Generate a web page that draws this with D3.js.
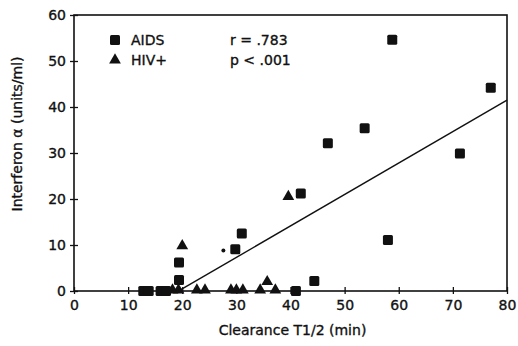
<!DOCTYPE html>
<html>
<head>
<meta charset="utf-8">
<script src="https://cdn.jsdelivr.net/npm/d3@7"></script>
<style>
  html, body { margin: 0; padding: 0; background: #fff; }
  svg text { font-family: "DejaVu Sans", sans-serif; fill: #111; stroke: #111; stroke-width: 0.35px; }
</style>
</head>
<body>
<svg id="chart" width="518" height="346"></svg>
<script>
// DATA (clearance T1/2 in min, interferon alpha in units/ml)
const aidsX = [58.8, 77.0, 53.7, 46.9, 71.3, 58.0, 44.4, 41.0, 41.9, 31.0, 29.8, 19.4, 19.4, 12.8, 13.8, 16.0, 17.0];
const aidsY = [54.6, 44.2, 35.4, 32.1, 29.9, 11.1, 2.2, 0, 21.2, 12.5, 9.1, 6.2, 2.4, 0, 0, 0, 0];

const hivX = [39.6, 20.0, 35.7, 22.7, 24.2, 29.0, 30.0, 31.2, 34.4, 37.2, 19.3, 18.2];
const hivY = [20.3, 9.6, 1.8, 0, 0, 0, 0, 0, 0, 0, 0, 0];

const strayX = [27.6];
const strayY = [8.8];

const fitX = [19.5, 80];
const fitY = [0.12, 41.5];

const xTicks = [0, 10, 20, 30, 40, 50, 60, 70, 80];
const yTicks = [0, 10, 20, 30, 40, 50, 60];

const statLines = ["r = .783", "p < .001"];

// LAYOUT
const margin = { left: 74, top: 15, right: 11, bottom: 55 };
const W = 518, H = 346;
const svg = d3.select("#chart");

const x = d3.scaleLinear().domain([0, 80]).range([margin.left, W - margin.right]);
const y = d3.scaleLinear().domain([0, 60]).range([H - margin.bottom, margin.top]);

// frame
svg.append("rect")
  .attr("x", x(0)).attr("y", y(60))
  .attr("width", x(80) - x(0)).attr("height", y(0) - y(60))
  .attr("fill", "none").attr("stroke", "#111").attr("stroke-width", 1.6);

// axes: ticks cross the axis line
const xAxis = svg.append("g").attr("transform", `translate(0,${y(0)})`)
  .call(d3.axisBottom(x).tickValues(xTicks).tickSize(3).tickPadding(6));
svg.append("g").attr("transform", `translate(0,${y(0)})`)
  .call(d3.axisBottom(x).tickValues(xTicks).tickSize(-4).tickFormat(""));

const yAxis = svg.append("g").attr("transform", `translate(${x(0)},0)`)
  .call(d3.axisLeft(y).tickValues(yTicks).tickSize(4).tickPadding(4));
svg.append("g").attr("transform", `translate(${x(0)},0)`)
  .call(d3.axisLeft(y).tickValues(yTicks).tickSize(-4).tickFormat(""));

svg.selectAll(".domain").remove();
svg.selectAll(".tick line").attr("stroke", "#111").attr("stroke-width", 1.3);
svg.selectAll(".tick text").attr("font-size", 14).attr("font-family", "DejaVu Sans").attr("fill", "#111");
yAxis.selectAll(".tick text").attr("dy", "0.35em");

// axis titles
svg.append("text")
  .attr("x", (x(0) + x(80)) / 2 + 2).attr("y", 335)
  .attr("text-anchor", "middle").attr("font-size", 14)
  .text("Clearance T1/2 (min)");

svg.append("text")
  .attr("transform", "translate(22,134) rotate(-90)")
  .attr("text-anchor", "middle").attr("font-size", 14)
  .text("Interferon \u03b1 (units/ml)");

// regression line
svg.append("line")
  .attr("x1", x(fitX[0])).attr("y1", y(fitY[0]))
  .attr("x2", x(fitX[1])).attr("y2", y(fitY[1]))
  .attr("stroke", "#111").attr("stroke-width", 1.4);

// markers
const sq = 10;
const tri = d3.symbol().type(d3.symbolTriangle).size(60);

svg.append("g").selectAll("path")
  .data(hivX.map((v, i) => [v, hivY[i]]))
  .join("path")
  .attr("d", tri)
  .attr("transform", d => `translate(${x(d[0])},${y(d[1]) - 1})`)
  .attr("fill", "#111");

svg.append("g").selectAll("rect")
  .data(aidsX.map((v, i) => [v, aidsY[i]]))
  .join("rect")
  .attr("x", d => x(d[0]) - sq / 2).attr("y", d => y(d[1]) - sq / 2)
  .attr("width", sq).attr("height", sq).attr("rx", 1.5)
  .attr("fill", "#111");

svg.append("g").selectAll("circle")
  .data(strayX.map((v, i) => [v, strayY[i]]))
  .join("circle")
  .attr("cx", d => x(d[0])).attr("cy", d => y(d[1]))
  .attr("r", 2).attr("fill", "#111");

// legend
const leg = svg.append("g");
leg.append("rect").attr("x", 110).attr("y", 35).attr("width", sq).attr("height", sq).attr("rx", 1.5).attr("fill", "#111");
leg.append("path").attr("d", tri).attr("transform", "translate(115,60)").attr("fill", "#111");
leg.append("text").attr("x", 131).attr("y", 45).attr("font-size", 14).text("AIDS");
leg.append("text").attr("x", 131).attr("y", 65).attr("font-size", 14).text("HIV+");

leg.selectAll("text.stat")
  .data(statLines)
  .join("text")
  .attr("class", "stat")
  .attr("x", 230).attr("y", (d, i) => 45 + i * 20)
  .attr("font-size", 14)
  .text(d => d);
</script>
</body>
</html>
